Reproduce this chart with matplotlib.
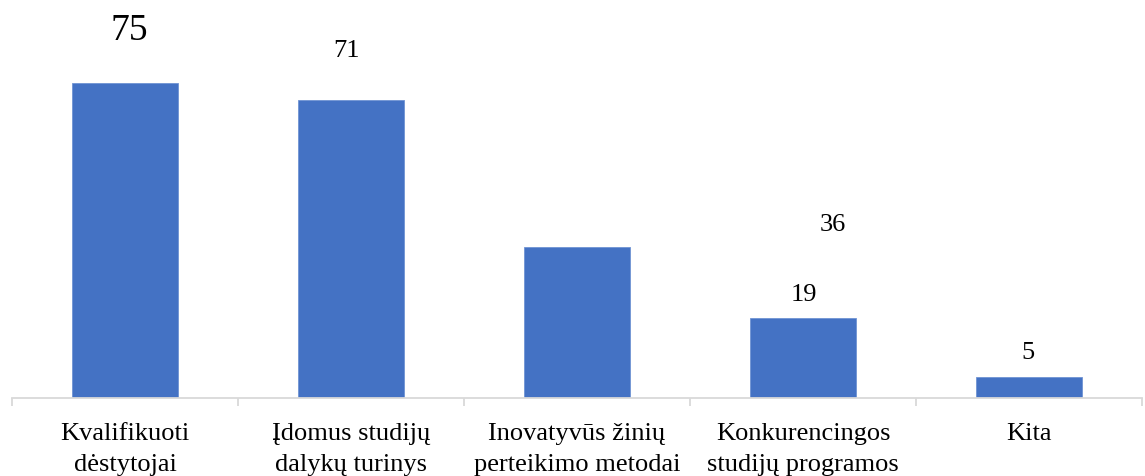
import numpy as np
import matplotlib.pyplot as plt

categories = ['Kvalifikuoti\ndėstytojai', 'Įdomus studijų\ndalykų turinys',
              'Inovatyvūs žinių\nperteikimo metodai', 'Konkurencingos\nstudijų programos',
              'Kita']
values = [75, 71, 36, 19, 5]
value_labels = ['75', '71', '36', '19', '5']

# label placement (points offset from bar top) and font sizes, as in the original
label_offsets = [(3, 38), (-3, 35), (184, 16), (1, 17), (-1, 17)]
label_sizes = [27, 19, 19, 19, 19]

plt.rcParams['font.family'] = ['Liberation Serif', 'DejaVu Serif']

fig = plt.figure(figsize=(11.45, 4.76), dpi=100)
ax = fig.add_axes([12 / 1145, 78 / 476, 1130 / 1145, 398 / 476])

x = np.arange(len(values))
ax.bar(x, values, width=0.47, color='#4472C4', edgecolor='#6F93D3', linewidth=0.6, zorder=2)

for xi, v, lab, off, fs in zip(x, values, value_labels, label_offsets, label_sizes):
    ax.annotate(lab, (xi, v), xytext=off, textcoords='offset points',
                ha='center', va='center', fontsize=fs, color='black')

ax.set_xlim(-0.5, len(values) - 0.5)
ax.set_ylim(0, 94.8)

for s in ['top', 'right', 'left']:
    ax.spines[s].set_visible(False)
ax.spines['bottom'].set_color('#D9D9D9')
ax.spines['bottom'].set_linewidth(1.3)

ax.set_yticks([])
ax.set_xticks(x)
ax.set_xticklabels(categories, fontsize=19, linespacing=1.5)
ax.tick_params(axis='x', length=0, pad=18)
ax.set_xticks(np.arange(-0.5, len(values) + 0.5, 1), minor=True)
ax.tick_params(axis='x', which='minor', length=6, width=1.3, color='#D9D9D9')

fig.savefig('out.png', dpi=100)
